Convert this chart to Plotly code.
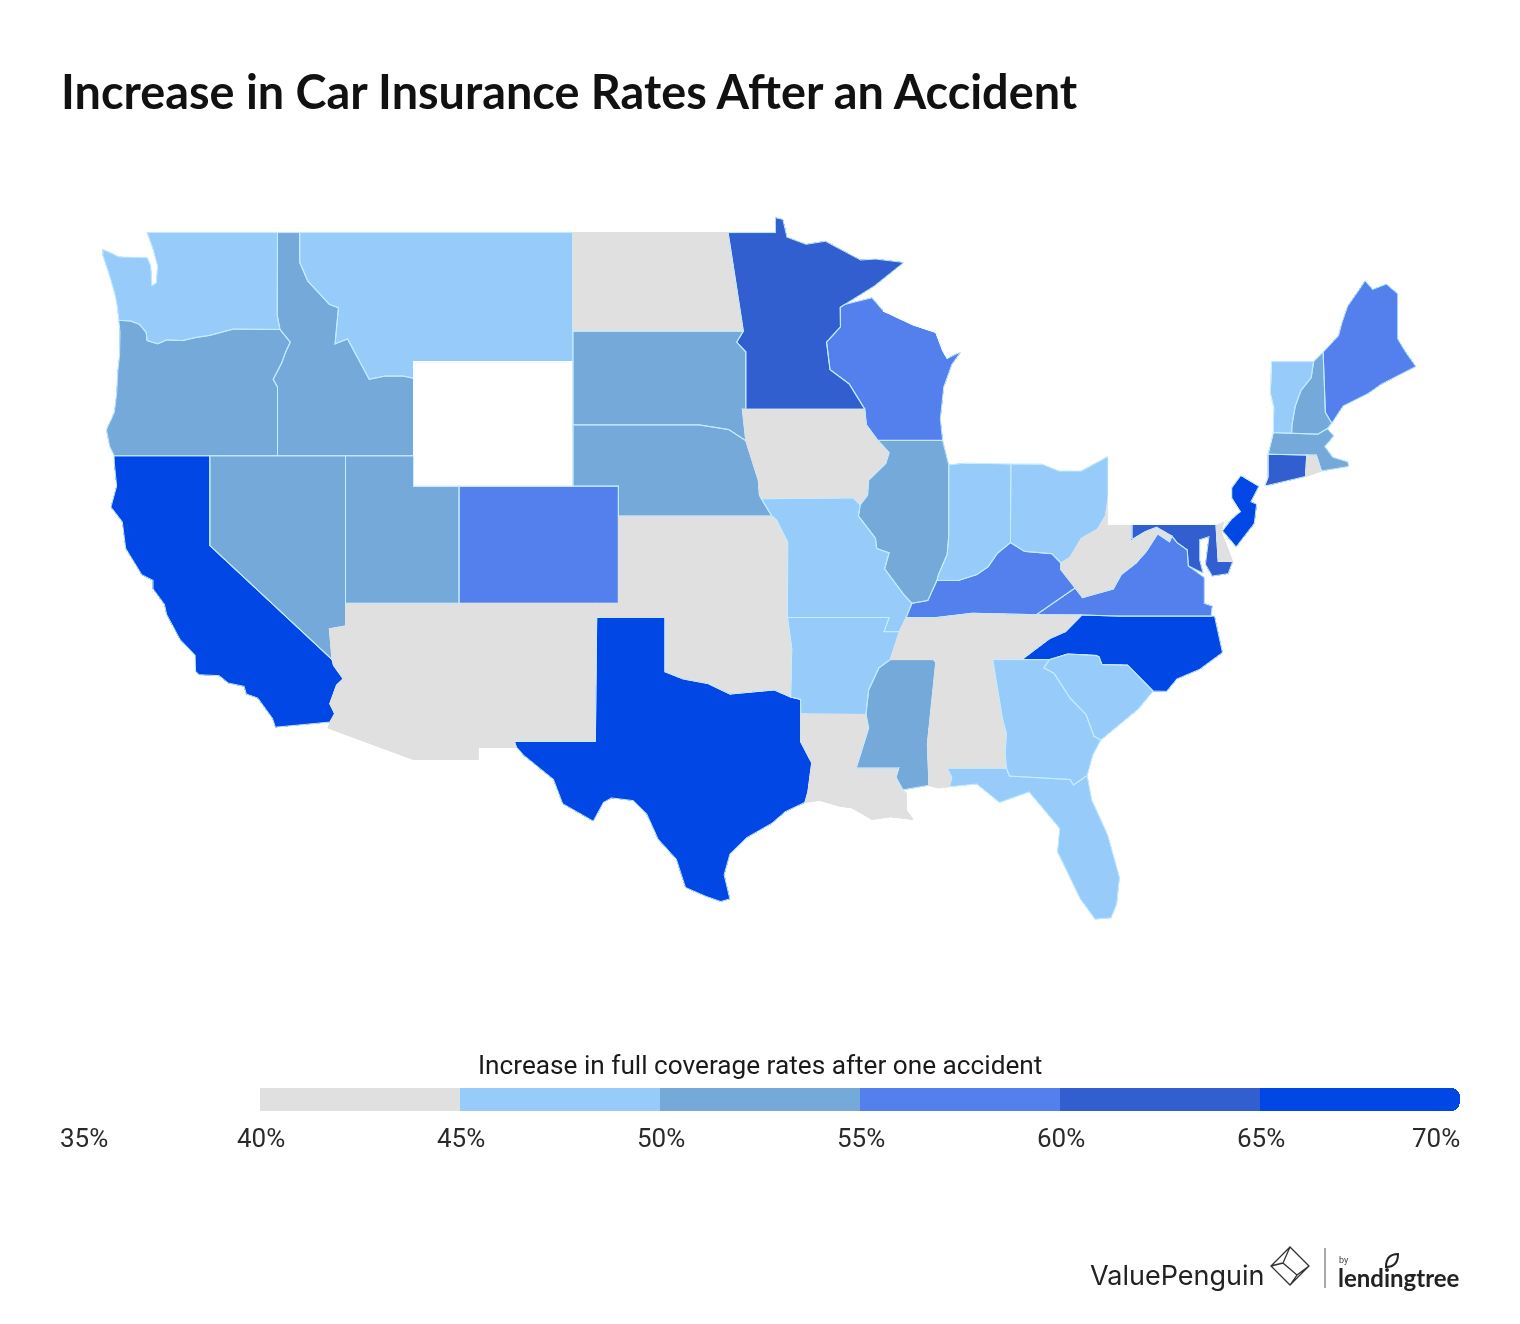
import plotly.graph_objects as go

# state outlines, lon lat pairs (no network here, so the topojson cdn cant be used)
outlines = {
    'WA': ['-122.76,48.87 -117.03,48.87 -117.04,46.42 -116.92,45.99 -118.98,46 -119.3,45.93 -120,45.81 -120.65,45.74 -121.2,45.65 -121.9,45.67 -122.3,45.55 -122.76,45.65 -122.8,45.9 -123.1,46.15 -123.5,46.25 -124,46.27 -124.07,46.7 -124.15,47 -124.4,47.6 -124.7,48.2 -124.7,48.38 -123.98,48.16 -123.15,48.15 -122.75,48.14 -122.6,47.9 -122.55,47.3 -122.35,47.4 -122.3,47.9 -122.5,48.4'],
    'OR': ['-124,46.27 -123.5,46.25 -123.1,46.15 -122.8,45.9 -122.76,45.65 -122.3,45.55 -121.9,45.67 -121.2,45.65 -120.65,45.74 -120,45.81 -119.3,45.93 -118.98,46 -116.92,45.99 -116.47,45.6 -116.67,45.3 -116.85,44.95 -117.22,44.45 -117.03,44.2 -117.03,43.8 -117.03,42 -120,42 -124.21,42 -124.4,42.3 -124.55,42.84 -124.2,43.4 -124.1,44 -124.05,44.7 -123.97,45.2 -123.95,45.9'],
    'CA': ['-124.21,42 -120,42 -120,39 -114.63,35 -114.57,34.8 -114.14,34.3 -114.43,34.08 -114.73,33.4 -114.52,33.03 -114.72,32.72 -117.12,32.53 -117.25,32.85 -117.9,33.6 -118.4,33.75 -118.5,34.03 -119.2,34.15 -119.6,34.42 -120.47,34.45 -120.63,34.57 -120.65,35.15 -121.3,35.7 -121.9,36.6 -122,36.96 -122.5,37.5 -122.5,37.8 -123,38 -123.7,38.9 -123.85,39.8 -124.35,40.3 -124.1,41 -124.2,41.75'],
    'NV': ['-120,42 -117.03,42 -114.04,42 -114.04,37 -114.04,36.2 -114.75,36.1 -114.63,35 -120,39'],
    'AZ': ['-114.04,37 -109.05,37 -109.05,31.33 -111.07,31.33 -114.81,32.5 -114.72,32.72 -114.52,33.03 -114.73,33.4 -114.43,34.08 -114.14,34.3 -114.57,34.8 -114.63,35 -114.75,36.1 -114.04,36.2'],
    'ID': ['-117.03,48.87 -116.05,48.87 -116.05,48 -115.7,47.45 -114.75,46.75 -114.35,46.65 -114.5,45.55 -113.95,45.7 -113.45,45.05 -113,44.45 -112.3,44.55 -111.5,44.55 -111.05,44.48 -111.05,42 -114.04,42 -117.03,42 -117.03,43.8 -117.03,44.2 -117.22,44.45 -116.85,44.95 -116.67,45.3 -116.47,45.6 -116.92,45.99 -117.04,46.42'],
    'MT': ['-116.05,48.87 -104.05,48.87 -104.05,45.94 -104.05,45 -111.05,45 -111.05,44.48 -111.5,44.55 -112.3,44.55 -113,44.45 -113.45,45.05 -113.95,45.7 -114.5,45.55 -114.35,46.65 -114.75,46.75 -115.7,47.45 -116.05,48'],
    'WY': ['-111.05,45 -104.05,45 -104.05,43 -104.05,41 -109.05,41 -111.05,41 -111.05,42 -111.05,44.48'],
    'UT': ['-114.04,42 -111.05,42 -111.05,41 -109.05,41 -109.05,37 -114.04,37'],
    'CO': ['-109.05,41 -104.05,41 -102.05,41 -102.05,40 -102.05,37 -103,37 -109.05,37'],
    'NM': ['-109.05,37 -103,37 -103,36.5 -103.06,32 -106.62,32 -106.53,31.78 -108.21,31.78 -108.21,31.33 -109.05,31.33'],
    'ND': ['-104.05,48.87 -97.23,48.87 -96.56,45.94 -104.05,45.94'],
    'SD': ['-104.05,45.94 -96.56,45.94 -96.85,45.6 -96.45,45.3 -96.45,43.5 -96.6,43.5 -96.45,42.49 -97.2,42.85 -98.5,43 -104.05,43'],
    'NE': ['-104.05,43 -98.5,43 -97.2,42.85 -96.45,42.49 -96.1,41.7 -95.9,41.2 -95.85,40.7 -95.31,40 -102.05,40 -102.05,41 -104.05,41'],
    'KS': ['-102.05,40 -95.31,40 -95.1,39.87 -94.61,39.11 -94.62,37 -102.05,37'],
    'OK': ['-103,37 -102.05,37 -94.62,37 -94.62,36.5 -94.43,35.4 -94.48,33.64 -95.2,33.9 -96,33.85 -97.15,33.75 -98.1,34.13 -99.2,34.3 -100,34.56 -100,36.5 -103,36.5'],
    'TX': ['-106.62,32 -103.06,32 -103,36.5 -100,36.5 -100,34.56 -99.2,34.3 -98.1,34.13 -97.15,33.75 -96,33.85 -95.2,33.9 -94.48,33.64 -94.04,33.55 -94.04,33.02 -94.04,31.99 -93.55,31.2 -93.72,30.1 -93.85,29.7 -94.7,29.35 -95.3,28.9 -96.4,28.35 -97.15,27.7 -97.4,26.9 -97.15,25.95 -97.55,25.85 -98.2,26.05 -99.1,26.4 -99.5,27.5 -100.3,28.28 -100.8,29.25 -101.4,29.77 -102.35,29.87 -102.7,29.7 -103.15,28.98 -104.5,29.65 -104.9,30.57 -106.2,31.47 -106.53,31.78'],
    'MN': ['-97.23,48.87 -95.15,48.87 -95.15,49.3 -94.82,49.25 -94.64,48.74 -93.8,48.53 -92.95,48.62 -91.4,48.07 -90.75,48.1 -89.5,48 -90.8,47.3 -92.1,46.75 -92.3,46.66 -92.29,46.07 -92.9,45.6 -92.75,44.75 -91.9,44.3 -91.22,43.5 -96.45,43.5 -96.45,45.3 -96.85,45.6 -96.56,45.94'],
    'IA': ['-96.6,43.5 -91.22,43.5 -91.15,43 -90.65,42.5 -90.15,42.1 -90.3,41.75 -91.05,41.2 -91.1,40.7 -91.42,40.38 -91.73,40.61 -95.77,40.58 -95.85,40.7 -95.9,41.2 -96.1,41.7 -96.45,42.49'],
    'MO': ['-95.77,40.58 -91.73,40.61 -91.42,40.38 -91.5,40 -90.75,39.25 -90.7,38.9 -90.15,38.75 -90.35,38.2 -89.5,37.3 -89.15,37 -89.4,36.5 -89.7,36 -90.37,36 -90.15,36.5 -94.62,36.5 -94.62,37 -94.61,39.11 -95.1,39.87 -95.31,40'],
    'AR': ['-94.62,36.5 -90.15,36.5 -90.37,36 -89.7,36 -90.1,35 -90.6,34.7 -91.05,33.9 -91.17,33 -94.04,33.02 -94.04,33.55 -94.48,33.64 -94.43,35.4'],
    'LA': ['-94.04,33.02 -91.17,33 -91.05,32.5 -91.6,31 -89.73,31 -89.85,30.65 -89.55,30.18 -89.4,30.05 -89.4,29.4 -89.1,29.05 -90.1,29.15 -90.9,29.05 -91.8,29.5 -92.3,29.55 -93.2,29.78 -93.85,29.7 -93.72,30.1 -93.55,31.2 -94.04,31.99'],
    'MS': ['-90.1,35 -88.2,35 -88.1,34.9 -88.47,31.9 -88.4,30.35 -89.55,30.18 -89.85,30.65 -89.73,31 -91.6,31 -91.05,32.5 -91.17,33 -91.05,33.9 -90.6,34.7'],
    'AL': ['-88.2,35 -85.6,35 -85.18,32.87 -85,32.3 -85.05,31.55 -85,31 -87.6,31 -87.4,30.65 -87.5,30.3 -88,30.25 -88.4,30.35 -88.47,31.9 -88.1,34.9'],
    'TN': ['-90.1,35 -88.2,35 -85.6,35 -84.32,35 -83.1,35.75 -82.4,36 -81.68,36.59 -83.68,36.6 -86.5,36.65 -88.07,36.5 -89.4,36.5 -89.7,36'],
    'KY': ['-89.4,36.5 -88.07,36.5 -86.5,36.65 -83.68,36.6 -81.97,37.54 -82.6,38.17 -82.6,38.4 -83,38.72 -84.2,38.8 -84.82,39.1 -85.4,38.73 -85.8,38.27 -86.3,38 -87.1,37.8 -88.05,37.8 -88.45,37.1 -89.15,37'],
    'IL': ['-90.65,42.5 -87.8,42.5 -87.53,41.7 -87.53,39.35 -87.6,38.7 -87.98,38 -88.05,37.8 -88.45,37.1 -89.15,37 -89.5,37.3 -90.35,38.2 -90.15,38.75 -90.7,38.9 -90.75,39.25 -91.5,40 -91.42,40.38 -91.1,40.7 -91.05,41.2 -90.3,41.75 -90.15,42.1'],
    'WI': ['-92.29,46.07 -92.3,46.66 -92.1,46.75 -90.9,46.95 -90.4,46.55 -89.1,46.13 -88.1,45.9 -87.8,45.35 -87.6,45.1 -87,45.3 -87.4,44.9 -87.75,44.2 -87.9,43.2 -87.8,42.5 -90.65,42.5 -91.15,43 -91.22,43.5 -91.9,44.3 -92.75,44.75 -92.9,45.6'],
    'MI': ['-86.8,41.76 -84.8,41.73 -83.45,41.73 -83.15,42.1 -82.45,43 -82.6,43.9 -83.4,43.95 -83.3,44.8 -83.4,45.2 -84.7,45.75 -85.5,45 -86.2,44.7 -86.5,43.6 -86.2,42.6',
           '-90.4,46.55 -88.4,47.4 -87.8,47.45 -88.4,46.9 -87.4,46.5 -85,46.75 -84.1,46.2 -84.7,45.95 -86.5,45.8 -87.6,45.1 -87.8,45.35 -88.1,45.9 -89.1,46.13'],
    'IN': ['-87.53,41.7 -86.8,41.76 -84.8,41.73 -84.82,39.1 -85.4,38.73 -85.8,38.27 -86.3,38 -87.1,37.8 -88.05,37.8 -87.98,38 -87.6,38.7 -87.53,39.35'],
    'OH': ['-84.8,41.73 -83.45,41.73 -82.7,41.5 -81.7,41.5 -80.52,41.98 -80.52,40.64 -80.65,40 -81,39.55 -81.7,39.25 -82.2,38.6 -82.6,38.4 -83,38.72 -84.2,38.8 -84.82,39.1'],
    'WV': ['-82.6,38.17 -81.97,37.54 -81.65,37.2 -81.25,37.3 -80.3,37.5 -79.95,38 -79.3,38.4 -78.85,38.8 -78.35,39.4 -77.83,39.13 -77.72,39.32 -78.4,39.62 -78.9,39.47 -79.48,39.2 -79.48,39.72 -80.52,39.72 -80.52,40.64 -80.65,40 -81,39.55 -81.7,39.25 -82.2,38.6 -82.6,38.4'],
    'VA': ['-83.68,36.6 -81.68,36.59 -80,36.55 -76,36.55 -75.95,36.9 -76.3,37 -76.3,37.9 -77,38.3 -77.05,38.85 -77.5,39.1 -77.72,39.32 -77.83,39.13 -78.35,39.4 -78.85,38.8 -79.3,38.4 -79.95,38 -80.3,37.5 -81.25,37.3 -81.65,37.2 -81.97,37.54'],
    'NC': ['-84.32,35 -83.1,35.75 -82.4,36 -81.68,36.59 -80,36.55 -76,36.55 -75.85,36.55 -75.5,35.25 -76.5,34.65 -77.5,34.3 -77.95,33.85 -78.55,33.86 -79.67,34.8 -80.8,34.82 -80.93,35.1 -81.05,35.15 -82.3,35.2 -83.1,35'],
    'SC': ['-83.35,34.7 -83.1,35 -82.3,35.2 -81.05,35.15 -80.93,35.1 -80.8,34.82 -79.67,34.8 -78.55,33.86 -79.2,33.2 -79.9,32.7 -80.85,32.05 -81.15,32.2 -81.5,33 -82.2,33.6 -82.9,34.5'],
    'GA': ['-85.6,35 -84.32,35 -83.1,35 -83.35,34.7 -82.9,34.5 -82.2,33.6 -81.5,33 -81.15,32.2 -80.85,32.05 -81.2,31.5 -81.45,30.72 -82.05,30.36 -82.2,30.57 -84.86,30.7 -85,31 -85.05,31.55 -85,32.3 -85.18,32.87'],
    'FL': ['-87.6,31 -85,31 -84.86,30.7 -82.2,30.57 -82.05,30.36 -81.45,30.72 -81.25,29.8 -80.55,28.45 -80.03,26.8 -80.15,25.75 -80.4,25.2 -81.1,25.15 -81.75,25.95 -82.15,26.7 -82.75,27.8 -82.65,28.7 -83.4,29.5 -84,30.1 -85.3,29.7 -86.3,30.4 -87.5,30.3 -87.4,30.65'],
    'MD': ['-79.48,39.72 -75.79,39.72 -75.69,38.46 -75.05,38.45 -75.25,38.03 -75.95,37.95 -76.25,38.35 -76.1,39.3 -76.5,39.2 -76.5,38.5 -76.35,38.05 -77,38.3 -77.05,38.85 -77.5,39.1 -77.72,39.32 -78.4,39.62 -78.9,39.47 -79.48,39.2'],
    'DE': ['-75.79,39.72 -75.45,39.82 -75.55,39.45 -75.05,38.45 -75.69,38.46'],
    'PA': ['-80.52,41.98 -79.76,42.27 -79.76,42 -75.35,42 -75.05,41.6 -74.7,41.36 -75.1,40.95 -75.1,40.6 -74.72,40.15 -75.45,39.82 -75.79,39.72 -80.52,39.72'],
    'NY': ['-79.76,42.27 -79,42.7 -78.9,43.1 -79.05,43.27 -77.5,43.27 -76.2,43.55 -76.3,44.15 -75,44.95 -74.7,45 -73.35,45 -73.4,44 -73.25,43.55 -73.27,42.75 -73.5,42.05 -73.5,41.3 -73.65,41 -74,40.7 -71.9,41.05 -73.9,41 -74.7,41.36 -75.05,41.6 -75.35,42 -79.76,42'],
    'NJ': ['-74.7,41.36 -73.9,41 -74.25,40.48 -74,40.4 -74.1,39.75 -74.9,38.95 -75.5,39.5 -75.1,39.9 -74.72,40.15 -75.1,40.6 -75.1,40.95'],
    'CT': ['-73.5,42.05 -71.8,42.02 -71.85,41.32 -73.65,41 -73.5,41.3'],
    'RI': ['-71.8,42.02 -71.38,42.02 -71.15,41.5 -71.85,41.32'],
    'MA': ['-73.27,42.75 -72.46,42.73 -71.3,42.7 -70.9,42.88 -70.6,42.65 -71,42.3 -70.65,41.95 -70,41.8 -69.95,41.65 -71.15,41.5 -71.38,42.02 -71.8,42.02 -73.5,42.05'],
    'VT': ['-73.35,45 -71.5,45 -71.6,44.5 -72.05,44.1 -72.3,43.6 -72.45,43 -72.46,42.73 -73.27,42.75 -73.25,43.55 -73.4,44'],
    'NH': ['-71.5,45 -71.08,45.3 -70.98,43.4 -70.7,43.05 -70.9,42.88 -71.3,42.7 -72.46,42.73 -72.45,43 -72.3,43.6 -72.05,44.1 -71.6,44.5'],
    'ME': ['-71.08,45.3 -70.4,45.8 -70.25,46.2 -70,46.7 -69.23,47.46 -68.9,47.2 -68.3,47.36 -67.8,47.07 -67.8,45.7 -67.45,45.3 -67,44.85 -68.5,44.3 -69.1,44 -70.2,43.6 -70.7,43.05 -70.98,43.4'],
}

# increase after one accident, percent (only the 5 point band can be read)
states = ['WY', 'MI', 'PA', 'NY',
          'AZ', 'NM', 'ND', 'KS', 'OK', 'IA', 'LA', 'TN', 'AL', 'WV', 'DE', 'RI',
          'WA', 'MT', 'MO', 'AR', 'IN', 'OH', 'GA', 'FL', 'SC', 'VT',
          'OR', 'NV', 'ID', 'UT', 'SD', 'NE', 'IL', 'MS', 'MA', 'NH',
          'CO', 'WI', 'KY', 'VA', 'ME',
          'MN', 'MD', 'CT',
          'CA', 'TX', 'NC', 'NJ']
increase = [38, 39, 38, 39,
            43, 42, 41, 43, 44, 42, 43, 44, 42, 43, 41, 44,
            47, 46, 48, 47, 48, 46, 49, 47, 48, 46,
            52, 53, 51, 53, 52, 51, 53, 52, 52, 51,
            57, 56, 58, 57, 56,
            62, 63, 62,
            68, 67, 68, 66]

bands = [35, 40, 45, 50, 55, 60, 65, 70]
band_colors = ['#ffffff', '#e0e0e0', '#97cbf9', '#75a9d9', '#5480ee', '#325fcf', '#0047e6']
tick_labels = ['35%', '40%', '45%', '50%', '55%', '60%', '65%', '70%']
legend_title = 'Increase in full coverage rates after one accident'

W, H = 1520, 1324


def px(x):
    return x / W


def py(y):
    return 1 - y / H


def ring(text):
    pts = [[float(v) for v in p.split(',')] for p in text.split()]
    pts.append(pts[0])
    return pts


features = [{'type': 'Feature', 'id': k,
             'geometry': {'type': 'MultiPolygon', 'coordinates': [[ring(r)] for r in v]}}
            for k, v in outlines.items()]
geojson = {'type': 'FeatureCollection', 'features': features}

# stepped colour scale on 35..70
scale = []
for i, c in enumerate(band_colors):
    scale.append([(bands[i] - 35) / 35, c])
    scale.append([(bands[i + 1] - 35) / 35, c])

line_colors = ['#e0e0e0' if 40 <= v < 45 else '#c4ecff' if v >= 45 else '#ffffff' for v in increase]

fig = go.Figure()
fig.add_trace(go.Choroplethmap(geojson=geojson, locations=states, z=increase, featureidkey='id',
                               zmin=35, zmax=70, colorscale=scale, showscale=False,
                               marker_line_color=line_colors, marker_line_width=1))

# legend strip, stacked from 0 so only the last band gets the round end
mids = [(bands[i] + bands[i + 1]) / 2 for i in range(7)]
widths = [bands[i + 1] - bands[i] for i in range(7)]
fig.add_trace(go.Bar(x=widths, y=['s'] * 7, orientation='h',
                     marker=dict(color=mids, colorscale=scale, cmin=35, cmax=70, line_width=0),
                     showlegend=False, hoverinfo='skip'))

fig.update_layout(
    width=W, height=H, margin=dict(l=0, r=0, t=0, b=0), paper_bgcolor='white', plot_bgcolor='white',
    font=dict(family='Roboto', color='#1a1a1a'), barmode='stack', bargap=0, barcornerradius=9,
    map=dict(domain=dict(x=[px(90), px(1430)], y=[py(935), py(205)]), style='white-bg',
             center=dict(lon=-95.825, lat=38.16), zoom=4),
    xaxis=dict(domain=[px(60), px(1460)], range=[0, 35], visible=False),
    yaxis=dict(domain=[py(1111), py(1088)], visible=False),
    title=dict(text='<b>Increase in Car Insurance Rates After an Accident</b>', x=px(61), xanchor='left',
               y=py(93), yanchor='middle', font=dict(family='Lato', size=46.8, color='#111111')),
)

# legend text
fig.add_annotation(text=legend_title, xref='paper', yref='paper', x=px(760), y=py(1065), showarrow=False,
                   xanchor='center', yanchor='middle', font=dict(size=26.2, color='#1a1a1a'))
for b, lab in zip(bands, tick_labels):
    anchor = 'left' if b == 35 else 'right' if b == 70 else 'center'
    shift = -2 if b == 35 else 2 if b == 70 else 1
    fig.add_annotation(text=lab, x=b - 35, xref='x', yref='paper', y=py(1138), xanchor=anchor, yanchor='middle',
                       xshift=shift, showarrow=False, font=dict(size=26, color='#2a2a2a'))

# logo
fig.add_annotation(text='ValuePenguin', xref='paper', yref='paper', x=px(1088), y=py(1275), xanchor='left',
                   yanchor='middle', showarrow=False, font=dict(family='Inter', size=27, color='#222222'))
fig.add_annotation(text='<b>lendingtree</b>', xref='paper', yref='paper', x=px(1336), y=py(1277), xanchor='left',
                   yanchor='middle', showarrow=False, font=dict(family='Lato', size=24, color='#222222'))
fig.add_annotation(text='by', xref='paper', yref='paper', x=px(1337), y=py(1260), xanchor='left',
                   yanchor='middle', showarrow=False, font=dict(size=9, color='#444444'))
fig.add_shape(type='line', xref='paper', yref='paper', x0=px(1325), x1=px(1325), y0=py(1248), y1=py(1288),
              line=dict(color='#555555', width=1))
fig.add_shape(type='path', xref='paper', yref='paper',
              path=f'M {px(1290)} {py(1247)} L {px(1309)} {py(1266)} L {px(1290)} {py(1285)} L {px(1271)} {py(1266)} Z '
                   f'M {px(1290)} {py(1247)} L {px(1283)} {py(1263)} L {px(1297)} {py(1275)} L {px(1290)} {py(1285)} '
                   f'M {px(1271)} {py(1266)} L {px(1283)} {py(1263)} M {px(1309)} {py(1266)} L {px(1297)} {py(1275)}',
              line=dict(color='#333333', width=1.3))
fig.add_shape(type='path', xref='paper', yref='paper',
              path=f'M {px(1386)} {py(1267)} C {px(1386)} {py(1257)}, {px(1391)} {py(1254)}, {px(1398)} {py(1254)} '
                   f'C {px(1398)} {py(1263)}, {px(1394)} {py(1267)}, {px(1386)} {py(1267)} Z',
              line=dict(color='#222222', width=2))

# drop the default body margin so the 1520 wide figure sits at 0,0
fig.write_html("out.html", post_script="document.body.style.margin='0';",
               config={'displayModeBar': False})
